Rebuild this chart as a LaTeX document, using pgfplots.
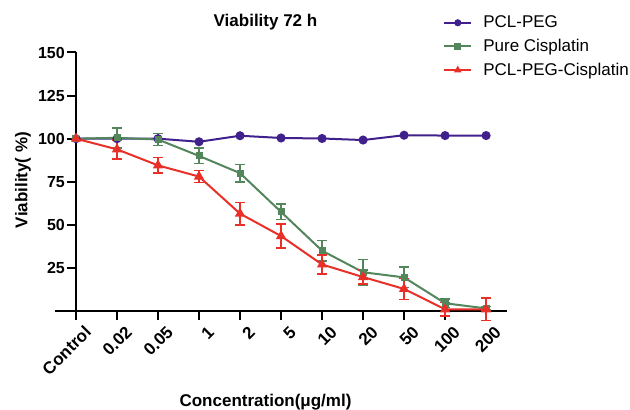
\documentclass[border=0pt]{standalone}
\usepackage{fontspec}
\setmainfont{Liberation Sans}
\usepackage{pgfplots}
\pgfplotsset{compat=1.18}

\definecolor{cpeg}{RGB}{64,32,140}
\definecolor{ccis}{RGB}{84,134,92}
\definecolor{cmix}{RGB}{232,48,40}

\begin{document}
\begin{tikzpicture}[x=1bp,y=1bp]
\begin{axis}[
  at={(55bp,98bp)}, anchor=south west,
  scale only axis, width=452bp, height=258.5bp,
  xmin=-0.512, xmax=10.51, ymin=0, ymax=150,
  axis x line*=bottom, axis y line*=middle,
  axis line style={line width=2bp},
  tick align=outside, tick style={line width=2bp, black},
  major tick length=9bp,
  xtick={0,...,10},
  xticklabels={Control,0.02,0.05,1,2,5,10,20,50,100,200},
  ytick={25,50,75,100,125,150},
  /pgf/number format/assume math mode=true,
  tick label style={font=\bfseries\fontsize{16bp}{16bp}\selectfont},
  xticklabel style={font=\bfseries\fontsize{17bp}{17bp}\selectfont,
    rotate=45, anchor=east, inner sep=1bp, yshift=-15bp, xshift=3bp},
  yticklabel style={inner sep=2bp},
  clip=false,
  legend style={at={(axis description cs:0.852,1.157)}, anchor=north west,
    draw=none, fill=none, font=\fontsize{17bp}{19bp}\selectfont,
    row sep=6bp, cells={anchor=west}},
  legend image code/.code={%
    \draw[mark repeat=2,mark phase=2,mark size=2.5bp]
      plot coordinates {(0bp,0bp) (13.5bp,0bp) (27bp,0bp)};
    \path (36bp,0bp);},
]
\addplot[cpeg, line width=2bp, mark=*, mark size=3.5bp] coordinates {
  (0,100) (1,100) (2,100) (3,98.2) (4,101.7) (5,100.4) (6,100.1)
  (7,99.2) (8,102) (9,101.8) (10,101.8)
};
\addlegendentry{PCL-PEG}
\addplot[ccis, line width=2bp, mark=square*, mark size=2.5bp,
  error bars/.cd, y dir=both, y explicit,
  error bar style={line width=1.5bp},
  error mark options={rotate=90, mark size=5bp, line width=1.5bp}]
  coordinates {
  (0,100) +- (0,0)
  (1,100.5) +- (0,5.8)
  (2,99.5) +- (0,3.5)
  (3,90) +- (0,4.5)
  (4,80) +- (0,5)
  (5,57.5) +- (0,4.5)
  (6,35) +- (0,6)
  (7,22.5) +- (0,7.5)
  (8,19.5) +- (0,6)
  (9,4.5) +- (0,2.5)
  (10,1.5) +- (0,1)
};
\addlegendentry{Pure Cisplatin}
\addplot[cmix, line width=2bp, mark=triangle*, mark size=4bp,
  error bars/.cd, y dir=both, y explicit,
  error bar style={line width=1.5bp},
  error mark options={rotate=90, mark size=5bp, line width=1.5bp}]
  coordinates {
  (0,100) +- (0,0)
  (1,93.8) +- (0,5.5)
  (2,84.5) +- (0,4.5)
  (3,78) +- (0,3.5)
  (4,56.5) +- (0,6.5)
  (5,43.5) +- (0,7)
  (6,27) +- (0,5.5)
  (7,19.7) +- (0,4)
  (8,12.8) +- (0,6)
  (9,1) +- (0,4)
  (10,1) +- (0,6.5)
};
\addlegendentry{PCL-PEG-Cisplatin}
\end{axis}
\node[font=\bfseries\fontsize{17bp}{17bp}\selectfont] at (265.5,387) {Viability 72 h};
\node[rotate=90, font=\bfseries\fontsize{17bp}{17bp}\selectfont] at (23,229) {Viability( \%)};
\node[font=\bfseries\fontsize{17bp}{17bp}\selectfont] at (265.5,7) {Concentration(μg/ml)};
\pgfresetboundingbox
\path (0,0) rectangle (630,409);
\end{tikzpicture}
\end{document}
